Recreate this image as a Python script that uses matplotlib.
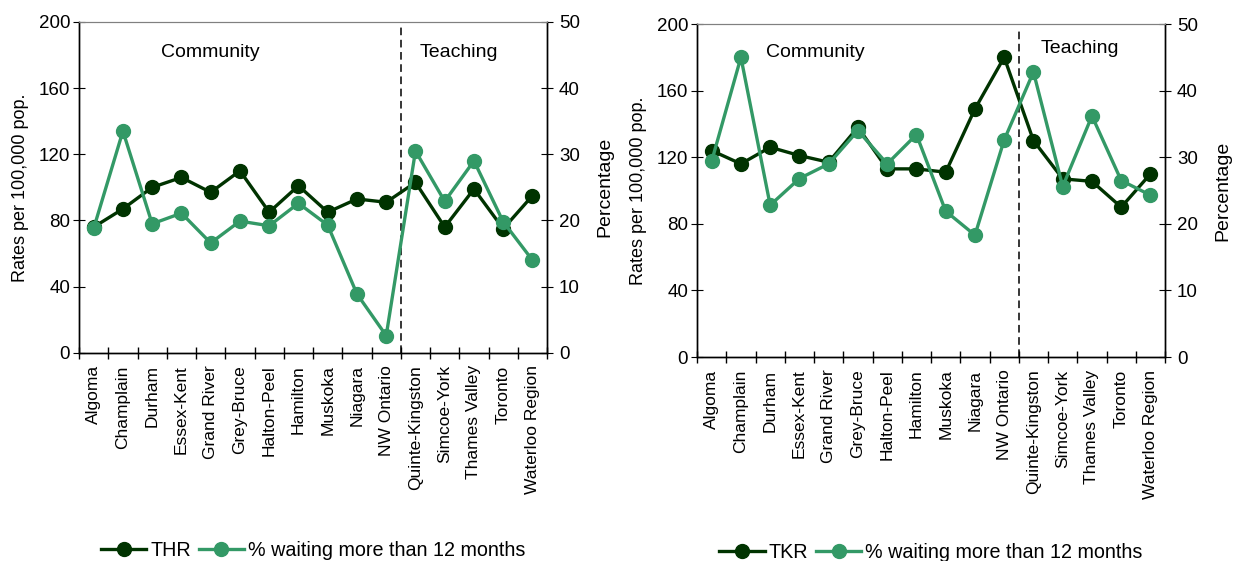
import numpy as np
import matplotlib
matplotlib.use("Agg")
import matplotlib.pyplot as plt

plt.rcParams['font.family'] = ['Liberation Sans', 'DejaVu Sans']

regions = ["Algoma", "Champlain", "Durham", "Essex-Kent", "Grand River",
           "Grey-Bruce", "Halton-Peel", "Hamilton", "Muskoka", "Niagara",
           "NW Ontario", "Quinte-Kingston", "Simcoe-York", "Thames Valley",
           "Toronto", "Waterloo Region"]

# hip replacement rates and % waiting > 12 months
thr_rate = [76, 87, 100, 106, 97, 110, 85, 101, 85, 93, 91, 103, 76, 99, 75, 95]
thr_wait = [18.8, 33.5, 19.5, 21.1, 16.6, 19.9, 19.2, 22.6, 19.3, 8.9, 2.6,
            30.5, 22.9, 29.0, 19.8, 14.0]

# knee replacement rates and % waiting > 12 months
tkr_rate = [124, 116, 126, 121, 117, 138, 113, 113, 111, 149, 180, 130, 107,
            105.5, 90, 110]
tkr_wait = [29.4, 45.0, 22.8, 26.8, 29.0, 34.0, 29.0, 33.4, 21.9, 18.3, 32.6,
            42.8, 25.6, 36.2, 26.5, 24.3]

n_community = 11

DARK = "#003300"
LIGHT = "#339966"


def draw_panel(fig, rect, rate, wait, rate_name, comm_pos, teach_pos, leg_y):
    ax = fig.add_axes(rect)
    ax2 = ax.twinx()
    x = np.arange(len(regions))

    l1, = ax.plot(x, rate, color=DARK, lw=2.4, marker="o", ms=10,
                  label=rate_name, zorder=3)
    l2, = ax2.plot(x, wait, color=LIGHT, lw=2.4, marker="o", ms=10,
                   label="% waiting more than 12 months", zorder=3)

    ax.set_xlim(-0.5, len(regions) - 0.5)
    ax.set_ylim(0, 200)
    ax2.set_ylim(0, 50)
    ax.set_yticks(np.arange(0, 201, 40))
    ax2.set_yticks(np.arange(0, 51, 10))

    ax.set_xticks(x)
    ax.set_xticklabels(regions, rotation=90, fontsize=12.5)
    ax.set_xticks(np.arange(-0.5, len(regions)), minor=True)
    ax.tick_params(axis="x", which="major", length=0, pad=9)
    ax.tick_params(axis="x", which="minor", direction="inout", length=8,
                   width=1)
    ax.tick_params(axis="y", direction="inout", length=9, labelsize=13.5,
                   pad=2)
    ax2.tick_params(axis="y", direction="inout", length=9, labelsize=13.5,
                    pad=4)

    for a in (ax, ax2):
        a.spines["top"].set_color("#808080")
        for s in ("left", "right", "bottom"):
            a.spines[s].set_linewidth(1)

    ax.set_ylabel("Rates per 100,000 pop.", fontsize=13, labelpad=7)
    ax2.set_ylabel("Percentage", fontsize=14, labelpad=12)

    # split between community and teaching hospitals
    ax.axvline(n_community - 0.5, ymin=0, ymax=0.985, color="black", lw=1.1,
               ls=(0, (5, 3)), zorder=2)
    ax.text(comm_pos[0], comm_pos[1], "Community", fontsize=14,
            ha="center", va="center")
    ax.text(teach_pos[0], teach_pos[1], "Teaching", fontsize=14,
            ha="center", va="center")

    leg = ax.legend(handles=[l1, l2], loc="upper center",
                    bbox_to_anchor=(0.5, leg_y), ncol=2, frameon=False,
                    fontsize=14.2, handlelength=2.3, handletextpad=0.2,
                    columnspacing=0.4)
    return ax, ax2, leg


fig = plt.figure(figsize=(12.35, 5.61), dpi=100)

draw_panel(fig, [0.064, 0.371, 0.379, 0.590], thr_rate, thr_wait, "THR",
           (4.0, 181.5), (12.5, 181.5), -0.515)
draw_panel(fig, [0.5644, 0.3636, 0.379, 0.5936], tkr_rate, tkr_wait, "TKR",
           (3.55, 183), (12.6, 185.5), -0.505)

fig.savefig("out.png", dpi=100)
